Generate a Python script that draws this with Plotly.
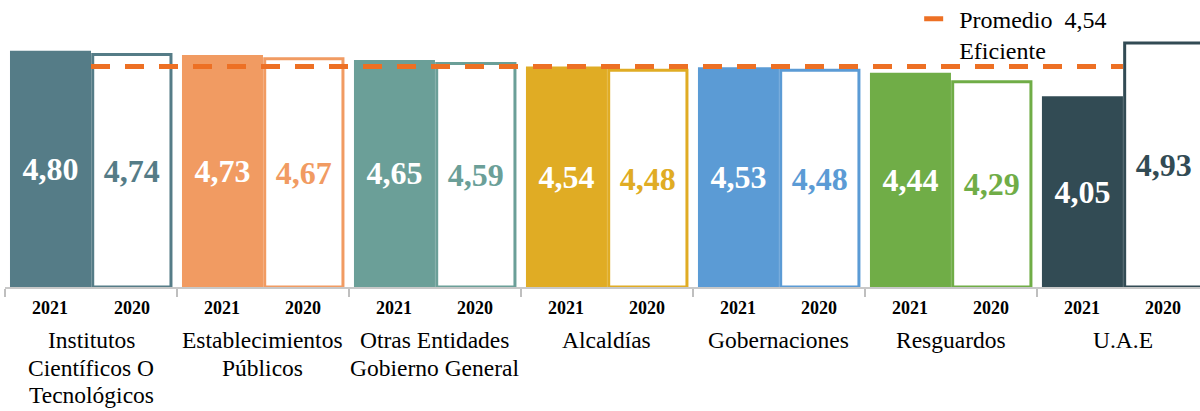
import plotly.graph_objects as go

# ---- data ----
categories = ["Institutos<br>Científicos O<br>Tecnológicos", "Establecimientos<br>Públicos",
              "Otras Entidades<br>Gobierno General", "Alcaldías", "Gobernaciones",
              "Resguardos", "U.A.E"]
years = ["2021", "2020"]
v2021 = [4.80, 4.73, 4.65, 4.54, 4.53, 4.44, 4.05]
v2020 = [4.74, 4.67, 4.59, 4.48, 4.48, 4.29, 4.93]
promedio = 4.54
promedio_label = "Promedio  4,54<br>Eficiente"

# ---- style ----
colors = ["#557C87", "#F19B62", "#6B9F98", "#E0AC24", "#5B9BD5", "#70AD47", "#324B54"]
FONT = "Liberation Serif"
YMIN, YMAX = 0.9, 5.64
BW = 0.471

def fmt(v):
    return f"{v:.2f}".replace(".", ",")

xs = list(range(len(categories)))
fig = go.Figure()

fig.add_trace(go.Bar(
    x=xs, y=[v - YMIN for v in v2021], base=YMIN, width=BW, offset=-BW,
    marker=dict(color=colors, line=dict(width=0)),
    text=[fmt(v) for v in v2021], textposition="inside", insidetextanchor="middle",
    textangle=0, constraintext="none",
    textfont=dict(family=FONT, size=32, color="white", weight="bold"),
    showlegend=False, hoverinfo="skip",
))
fig.add_trace(go.Bar(
    x=xs, y=[v - YMIN for v in v2020], base=YMIN, width=0.455, offset=0.01,
    marker=dict(color="white", line=dict(width=3, color=colors)),
    text=[fmt(v) for v in v2020], textposition="inside", insidetextanchor="middle",
    textangle=0, constraintext="none",
    textfont=dict(family=FONT, size=32, color=colors, weight="bold"),
    showlegend=False, hoverinfo="skip",
))
fig.add_trace(go.Scatter(
    x=xs, y=[promedio] * len(xs), mode="lines", name=promedio_label,
    line=dict(color="#ED7024", width=5, dash="19px,15px"),
    hoverinfo="skip",
))

ann = []
for i, cat in enumerate(categories):
    for yr, dx in zip(years, (-BW / 2, BW / 2)):
        ann.append(dict(x=i + dx, y=0, xref="x", yref="paper", text=yr, showarrow=False,
                        yanchor="top", yshift=-9,
                        font=dict(family=FONT, size=18, color="black", weight="bold")))
    for k, line in enumerate(cat.split("<br>")):
        ann.append(dict(x=i, y=0, xref="x", yref="paper", text=line, showarrow=False,
                        yanchor="top", yshift=-38 - 27.5 * k,
                        font=dict(family=FONT, size=23.5, color="black")))

fig.update_layout(
    width=1200, height=411,
    margin=dict(l=5, r=0, t=0, b=124, autoexpand=False),
    paper_bgcolor="white", plot_bgcolor="white",
    barmode="overlay",
    xaxis=dict(range=[-0.5, 6.448], tickvals=[i - 0.5 for i in range(len(categories) + 1)],
               showticklabels=False, ticks="outside", ticklen=8, tickcolor="#BFBFBF",
               tickwidth=1.5, showline=True, linecolor="#C8C8C8", linewidth=2,
               showgrid=False, zeroline=False, fixedrange=True, automargin=False),
    yaxis=dict(range=[YMIN, YMAX], visible=False, fixedrange=True),
    showlegend=True,
    legend=dict(x=0.765, y=1.012, xanchor="left", yanchor="top", bgcolor="rgba(0,0,0,0)",
                font=dict(family=FONT, size=24, color="black"), valign="top"),
    annotations=ann,
)

fig.write_html("out.html", config={"displayModeBar": False},
               post_script="document.body.style.margin='0';")
